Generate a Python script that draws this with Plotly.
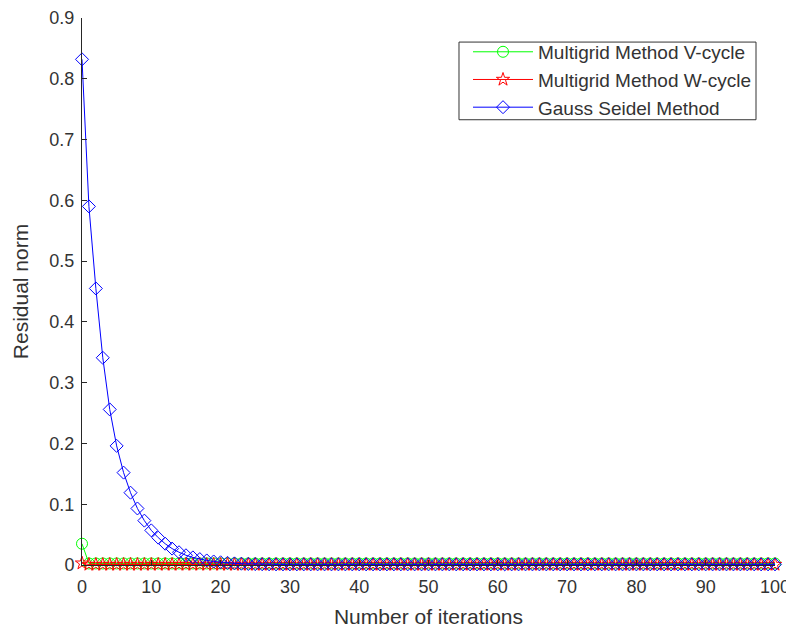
import plotly.graph_objects as go

iterations = list(range(0, 101))

gauss_seidel = [0.832, 0.590, 0.455, 0.341, 0.256, 0.196, 0.152, 0.119, 0.093, 0.073,
                0.057, 0.045, 0.035, 0.027, 0.021, 0.016, 0.0125, 0.0097, 0.0075, 0.0058,
                0.0045, 0.0035, 0.0027, 0.0021, 0.0017, 0.0014, 0.0012, 0.0011, 0.0010, 0.0010] + [0.0010] * 71

v_cycle = [0.035] + [0.0025] * 100

w_cycle = [0.003] + [0.0008] * 100

FONT = "Liberation Sans, Arial, Helvetica, sans-serif"
TXT = "#333333"

fig = go.Figure()
fig.add_trace(go.Scatter(x=iterations, y=v_cycle, mode="lines+markers",
                         name="Multigrid Method V-cycle",
                         line=dict(color="#00ff00", width=1),
                         marker=dict(symbol="circle-open", size=11, color="#00ff00", line=dict(width=1))))
fig.add_trace(go.Scatter(x=iterations, y=w_cycle, mode="lines+markers",
                         name="Multigrid Method W-cycle",
                         line=dict(color="#ff0000", width=1),
                         marker=dict(symbol="star-open", size=10, color="#ff0000", line=dict(width=1))))
fig.add_trace(go.Scatter(x=iterations, y=gauss_seidel, mode="lines+markers",
                         name="Gauss Seidel Method",
                         line=dict(color="#0000ff", width=1),
                         marker=dict(symbol="diamond-open", size=10, color="#0000ff", line=dict(width=1))))

# legend frame (drawn as a box behind the transparent legend)
fig.add_shape(type="rect", xref="paper", yref="paper",
              x0=0.544, x1=0.9726, y0=0.814, y1=0.956,
              line=dict(color="#333333", width=1), fillcolor="white", layer="above")

fig.update_layout(
    width=786, height=624,
    margin=dict(l=74, r=19, t=10, b=67, autoexpand=False),
    paper_bgcolor="white", plot_bgcolor="white",
    font=dict(family=FONT, size=18, color=TXT),
    showlegend=True,
    legend=dict(x=0.9726, y=0.9727, xanchor="right", yanchor="top",
                bgcolor="rgba(0,0,0,0)", borderwidth=0,
                font=dict(size=19, color=TXT), tracegroupgap=0, itemwidth=60),
    xaxis=dict(range=[0, 100], tickvals=[0, 10, 20, 30, 40, 50, 60, 70, 80, 90, 100],
               showgrid=False, zeroline=False, showline=True, linecolor="#262626", linewidth=1,
               ticks="inside", ticklen=5, tickcolor="#262626", automargin=False,
               ticklabelstandoff=5, ticklabeloverflow="allow",
               title=dict(text="Number of iterations", font=dict(size=21, color=TXT), standoff=13),
               tickfont=dict(size=18, color=TXT)),
    yaxis=dict(range=[0, 0.9], tickvals=[0, 0.1, 0.2, 0.3, 0.4, 0.5, 0.6, 0.7, 0.8, 0.9],
               ticktext=["0", "0.1", "0.2", "0.3", "0.4", "0.5", "0.6", "0.7", "0.8", "0.9"],
               showgrid=False, zeroline=False, showline=True, linecolor="#262626", linewidth=1,
               ticks="inside", ticklen=5, tickcolor="#262626", automargin=False,
               ticklabelstandoff=3, ticklabeloverflow="allow",
               title=dict(text="Residual norm", font=dict(size=21, color=TXT), standoff=15),
               tickfont=dict(size=18, color=TXT)),
)
fig.update_traces(cliponaxis=False)

fig.write_html("out.html")
